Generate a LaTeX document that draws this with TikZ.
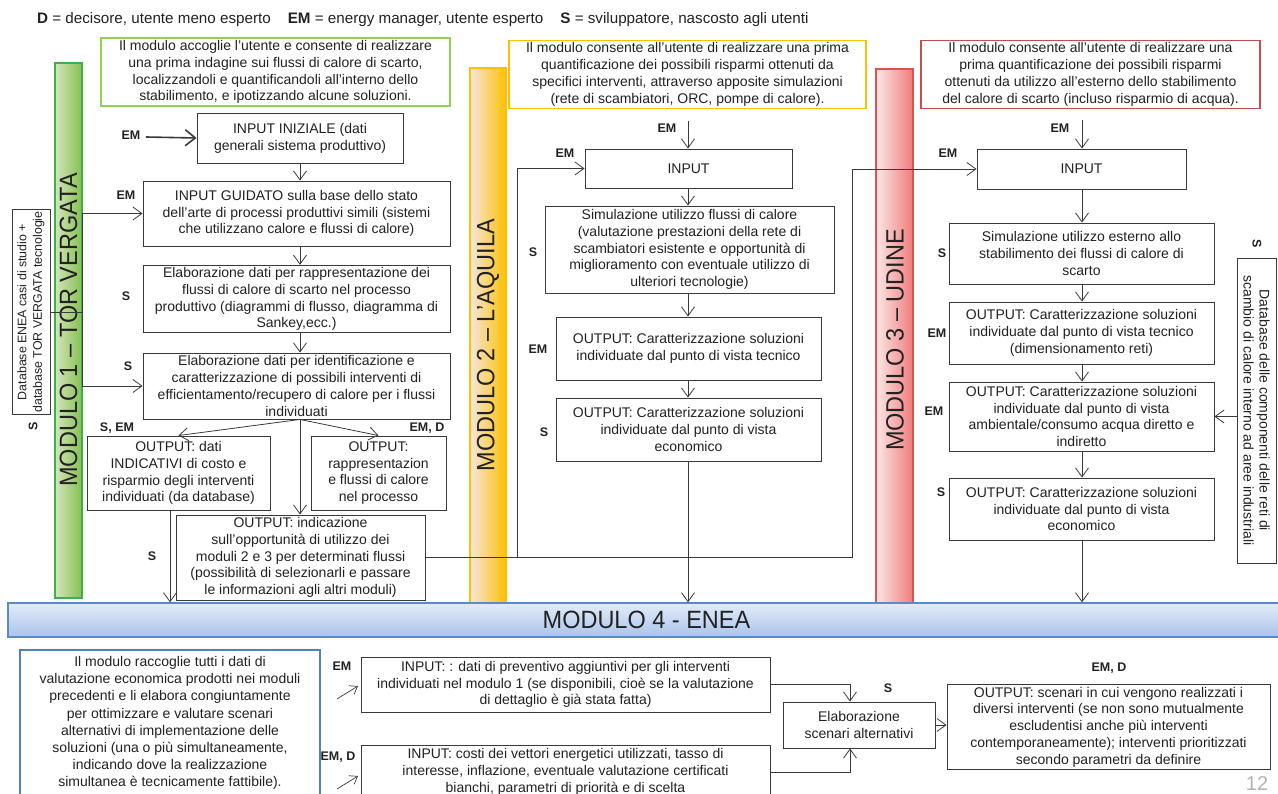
\documentclass[tikz,border=0pt]{standalone}
\usepackage{fontspec}
\setmainfont{Liberation Sans}
\newfontfamily\modfont[FakeStretch=0.94]{Liberation Sans}
\usetikzlibrary{arrows.meta}
\definecolor{txt}{HTML}{222222}
\definecolor{ln}{HTML}{3A3A3A}
\definecolor{grnb}{HTML}{92D050}
\definecolor{yelb}{HTML}{FFC000}
\definecolor{redb}{HTML}{C0504D}
\definecolor{blub}{HTML}{4F81BD}
\definecolor{gl}{HTML}{D3E6BB}
\definecolor{gr}{HTML}{86BF52}
\definecolor{gb}{HTML}{3CB04A}
\definecolor{yl}{HTML}{F4E6DE}
\definecolor{yr}{HTML}{FFC000}
\definecolor{rl}{HTML}{FCE6E6}
\definecolor{rr}{HTML}{F07C7C}
\definecolor{rb}{HTML}{D9534F}
\definecolor{bt}{HTML}{E2ECFA}
\definecolor{bb}{HTML}{AAC4EA}
\definecolor{bbd}{HTML}{5A8BC6}
\tikzset{
  every node/.style={text=txt},
  box/.style={draw=ln, line width=0.9pt, fill=white, align=center, inner sep=2pt,
    font=\fontsize{14}{16.8}\selectfont},
  desc/.style={box, line width=1.3pt},
  lbl/.style={font=\bfseries\fontsize{12.5}{14}\selectfont, inner sep=0pt},
  arr/.style={draw=ln, line width=0.8pt, -{Straight Barb[length=9pt,width=13pt]}},
  arrs/.style={draw=ln, line width=0.7pt, -{Straight Barb[length=7pt,width=10pt]}},
  cn/.style={draw=ln, line width=0.8pt},
  barnode/.style={line width=1.3pt, inner sep=0pt},
  modtxt/.style={font=\modfont\fontsize{25}{28}\selectfont, rotate=90, inner sep=0pt},
}
\begin{document}
\begin{tikzpicture}[x=1pt,y=-1pt]
\useasboundingbox (0,0) rectangle (1278,794);

% header
\node[font=\fontsize{15.2}{18}\selectfont, anchor=west, inner sep=0pt] (hdr) at (37,20)
  {\textbf{D} = decisore, utente meno esperto\hspace{17pt}\textbf{EM} = energy manager, utente esperto\hspace{17pt}\textbf{S} = sviluppatore, nascosto agli utenti};

% description boxes
\node[desc, draw=grnb, minimum width=349pt, minimum height=68pt] (d1) at (275.5,72)
  {Il modulo accoglie l’utente e consente di realizzare\\una prima indagine sui flussi di calore di scarto,\\localizzandoli e quantificandoli all’interno dello\\stabilimento, e ipotizzando alcune soluzioni.};
\node[desc, draw=yelb, minimum width=357pt, minimum height=67pt] (d2) at (687.5,74.5)
  {Il modulo consente all’utente di realizzare una prima\\quantificazione dei possibili risparmi ottenuti da\\specifici interventi, attraverso apposite simulazioni\\(rete di scambiatori, ORC, pompe di calore).};
\node[desc, draw=redb, minimum width=339pt, minimum height=67pt] (d3) at (1090.5,74.5)
  {Il modulo consente all’utente di realizzare una\\prima quantificazione dei possibili risparmi\\ottenuti da utilizzo all’esterno dello stabilimento\\del calore di scarto (incluso risparmio di acqua).};

% module bars
\node[barnode, draw=gb, left color=gl, right color=gr, minimum width=27pt, minimum height=535pt] (bar1) at (68.5,330.5) {};
\node[modtxt] (t1) at (68.5,330) {MODULO 1 – TOR VERGATA};
\node[barnode, draw=yelb, left color=yl, right color=yr, minimum width=36pt, minimum height=547pt] (bar2) at (488,341.5) {};
\node[modtxt] (t2) at (488,345) {MODULO 2 – L’AQUILA};
\node[barnode, draw=rb, left color=rl, right color=rr, minimum width=37pt, minimum height=546pt] (bar3) at (894.5,342) {};
\node[modtxt] (t3) at (895,340) {MODULO 3 – UDINE};
\node[barnode, draw=bbd, top color=bt, bottom color=bb, minimum width=1277pt, minimum height=34pt,
  font=\modfont\fontsize{25}{28}\selectfont] (bar4) at (646.5,620) {MODULO 4 - ENEA};

% module 1
\node[box, rotate=90, minimum width=205pt, minimum height=38pt, font=\fontsize{12.4}{15.5}\selectfont] (db1) at (31,312)
  {Database ENEA casi di studio +\\database TOR VERGATA tecnologie};
\node[lbl, rotate=90] (sdb1) at (33,426) {S};
\node[box, minimum width=206pt, minimum height=50pt] (in1) at (300,138) {INPUT INIZIALE (dati\\generali sistema produttivo)};
\node[lbl] (l1a) at (131,135) {EM};
\node[box, minimum width=307pt, minimum height=65pt] (g1) at (296.5,213.5)
  {INPUT GUIDATO sulla base dello stato\\dell’arte di processi produttivi simili (sistemi\\che utilizzano calore e flussi di calore)};
\node[lbl] (l1b) at (126,195) {EM};
\node[box, minimum width=307pt, minimum height=66pt] (r1) at (296.5,299)
  {Elaborazione dati per rappresentazione dei\\flussi di calore di scarto nel processo\\produttivo (diagrammi di flusso, diagramma di\\Sankey,ecc.)};
\node[lbl] (l1c) at (126,296) {S};
\node[box, minimum width=307pt, minimum height=66pt] (i1) at (296.5,386)
  {Elaborazione dati per identificazione e\\caratterizzazione di possibili interventi di\\efficientamento/recupero di calore per i flussi\\individuati};
\node[lbl] (l1d) at (128,366) {S};
\node[lbl] (l1e) at (117,428) {S, EM};
\node[lbl] (l1f) at (427,428) {EM, D};
\node[box, minimum width=183pt, minimum height=74pt] (o1a) at (178.5,473)
  {OUTPUT: dati\\INDICATIVI di costo e\\risparmio degli interventi\\individuati (da database)};
\node[box, minimum width=135pt, minimum height=74pt] (o1b) at (378.5,473)
  {OUTPUT:\\rappresentazion\\e flussi di calore\\nel processo};
\node[box, minimum width=249pt, minimum height=85pt] (o1c) at (300.5,557.5)
  {OUTPUT: indicazione\\sull’opportunità di utilizzo dei\\moduli 2 e 3 per determinati flussi\\(possibilità di selezionarli e passare\\le informazioni agli altri moduli)};
\node[lbl] (l1g) at (152,556) {S};

% module 2
\node[lbl] (l2a) at (667,128) {EM};
\node[lbl] (l2b) at (565,153) {EM};
\node[box, minimum width=207pt, minimum height=39pt] (in2) at (688.5,168.5) {INPUT};
\node[box, minimum width=289pt, minimum height=87pt] (s2) at (689.5,249.5)
  {Simulazione utilizzo flussi di calore\\(valutazione prestazioni della rete di\\scambiatori esistente e opportunità di\\miglioramento con eventuale utilizzo di\\ulteriori tecnologie)};
\node[lbl] (l2c) at (533,252) {S};
\node[box, minimum width=265pt, minimum height=63pt] (o2a) at (688.5,348.5)
  {OUTPUT: Caratterizzazione soluzioni\\individuate dal punto di vista tecnico};
\node[lbl] (l2d) at (538,349) {EM};
\node[box, minimum width=265pt, minimum height=63pt] (o2b) at (688.5,429.5)
  {OUTPUT: Caratterizzazione soluzioni\\individuate dal punto di vista\\economico};
\node[lbl] (l2e) at (544,432) {S};

% module 3
\node[lbl] (l3a) at (1060,128) {EM};
\node[lbl] (l3b) at (948,153) {EM};
\node[box, minimum width=209pt, minimum height=40pt] (in3) at (1081.5,169) {INPUT};
\node[box, minimum width=265pt, minimum height=61pt] (s3) at (1081.5,253.5)
  {Simulazione utilizzo esterno allo\\stabilimento dei flussi di calore di\\scarto};
\node[lbl] (l3c) at (942,253) {S};
\node[box, minimum width=265pt, minimum height=62pt] (o3a) at (1081.5,333)
  {OUTPUT: Caratterizzazione soluzioni\\individuate dal punto di vista tecnico\\(dimensionamento reti)};
\node[lbl] (l3d) at (937,333) {EM};
\node[box, minimum width=265pt, minimum height=69pt] (o3b) at (1081.5,416.5)
  {OUTPUT: Caratterizzazione soluzioni\\individuate dal punto di vista\\ambientale/consumo acqua diretto e\\indiretto};
\node[lbl] (l3e) at (934,411) {EM};
\node[box, minimum width=265pt, minimum height=62pt] (o3c) at (1081.5,509)
  {OUTPUT: Caratterizzazione soluzioni\\individuate dal punto di vista\\economico};
\node[lbl] (l3f) at (941,492) {S};
\node[box, rotate=-90, minimum width=305pt, minimum height=39pt, font=\fontsize{14}{16}\selectfont] (db3) at (1256.5,410.5)
  {Database delle componenti delle reti di\\scambio di calore interno ad aree industriali};
\node[lbl, rotate=-90] (sdb3) at (1257,244) {S};

% module 4 (bottom)
\node[desc, draw=blub, minimum width=300pt, minimum height=146pt, font=\fontsize{14}{17.1}\selectfont] (d4) at (170,723)
  {Il modulo raccoglie tutti i dati di\\valutazione economica prodotti nei moduli\\precedenti e li elabora congiuntamente\\per ottimizzare e valutare scenari\\alternativi di implementazione delle\\soluzioni (una o più simultaneamente,\\indicando dove la realizzazione\\simultanea è tecnicamente fattibile).};
\node[lbl] (l4a) at (342,666) {EM};
\node[box, minimum width=409pt, minimum height=55pt] (ip) at (565.5,684.5)
  {INPUT: : dati di preventivo aggiuntivi per gli interventi\\individuati nel modulo 1 (se disponibili, cioè se la valutazione\\di dettaglio è già stata fatta)};
\node[lbl] (l4b) at (338,757) {EM, D};
\node[box, minimum width=409pt, minimum height=54pt] (ic) at (565.5,772)
  {INPUT: costi dei vettori energetici utilizzati, tasso di\\interesse, inflazione, eventuale valutazione certificati\\bianchi, parametri di priorità e di scelta};
\node[box, minimum width=152pt, minimum height=46pt] (el) at (859,725) {Elaborazione\\scenari alternativi};
\node[lbl] (l4c) at (888,688) {S};
\node[box, minimum width=323pt, minimum height=84pt] (out) at (1108.5,727)
  {OUTPUT: scenari in cui vengono realizzati i\\diversi interventi (se non sono mutualmente\\escludentisi anche più interventi\\contemporaneamente); interventi prioritizzati\\secondo parametri da definire};
\node[lbl] (l4d) at (1109,668) {EM, D};
\node[text=gray!60, font=\fontsize{20}{22}\selectfont, inner sep=0pt] (pg) at (1257,784) {12};

% ---------- connectors ----------
% module 1
\coordinate (em1) at (146,137);
\draw[draw=ln, line width=1.6pt, -{Straight Barb[length=10pt,width=16pt]}] (em1) -- (in1.west);
\coordinate (j1) at (82,312);
\coordinate (j1t) at (82,213.5);
\coordinate (j1b) at (82,386);
\draw[cn] (db1.south) -- (j1);
\draw[cn] (j1t) -- (j1b);
\draw[arr] (j1t) -- (g1.west);
\draw[arr] (j1b) -- (i1.west);
\draw[arr] (in1.south) -- (in1.south |- g1.north);
\draw[arr] (g1.south -| in1.south) -- (in1.south |- r1.north);
\draw[arr] (r1.south -| in1.south) -- (in1.south |- i1.north);
\coordinate (ib) at (i1.south -| in1.south);
\draw[arr] (ib) -- (o1a.north);
\draw[arr] (ib) -- (o1b.north);
\draw[arr] (ib) -- (ib |- o1c.north);
\coordinate (o1ao) at (170,510);
\draw[arr] (o1ao) -- (o1ao |- bar4.north);
% to modules 2 and 3
\coordinate (c2) at (517,557.5);
\coordinate (c3) at (852,557.5);
\draw[arr] (o1c.east) -- (c2) |- (in2.west);
\draw[arr] (c2) -- (c3) |- (in3.west);
% module 2
\coordinate (em2) at (688,121);
\draw[arr] (em2) -- (em2 |- in2.north);
\draw[arr] (em2 |- in2.south) -- (em2 |- s2.north);
\draw[arr] (em2 |- s2.south) -- (em2 |- o2a.north);
\draw[arr] (em2 |- o2a.south) -- (em2 |- o2b.north);
\draw[arr] (em2 |- o2b.south) -- (em2 |- bar4.north);
% module 3
\coordinate (em3) at (1082,120);
\draw[arr] (em3) -- (em3 |- in3.north);
\draw[arr] (em3 |- in3.south) -- (em3 |- s3.north);
\draw[arr] (em3 |- s3.south) -- (em3 |- o3a.north);
\draw[arr] (em3 |- o3a.south) -- (em3 |- o3b.north);
\draw[arr] (em3 |- o3b.south) -- (em3 |- o3c.north);
\draw[arr] (em3 |- o3c.south) -- (em3 |- bar4.north);
\draw[arr] (db3.south |- o3b.east) -- (o3b.east);
% module 4
\coordinate (a1s) at (337,699);
\coordinate (a1e) at (358,686);
\draw[arrs] (a1s) -- (a1e);
\coordinate (a2s) at (337,789);
\coordinate (a2e) at (358,776);
\draw[arrs] (a2s) -- (a2e);
\coordinate (elx) at (850,725);
\draw[arr] (ip.east) -| (elx |- el.north);
\draw[arr] (ic.east) -| (elx |- el.south);
\draw[arr] (el.east) -- (el.east -| out.west);
\end{tikzpicture}
\end{document}
